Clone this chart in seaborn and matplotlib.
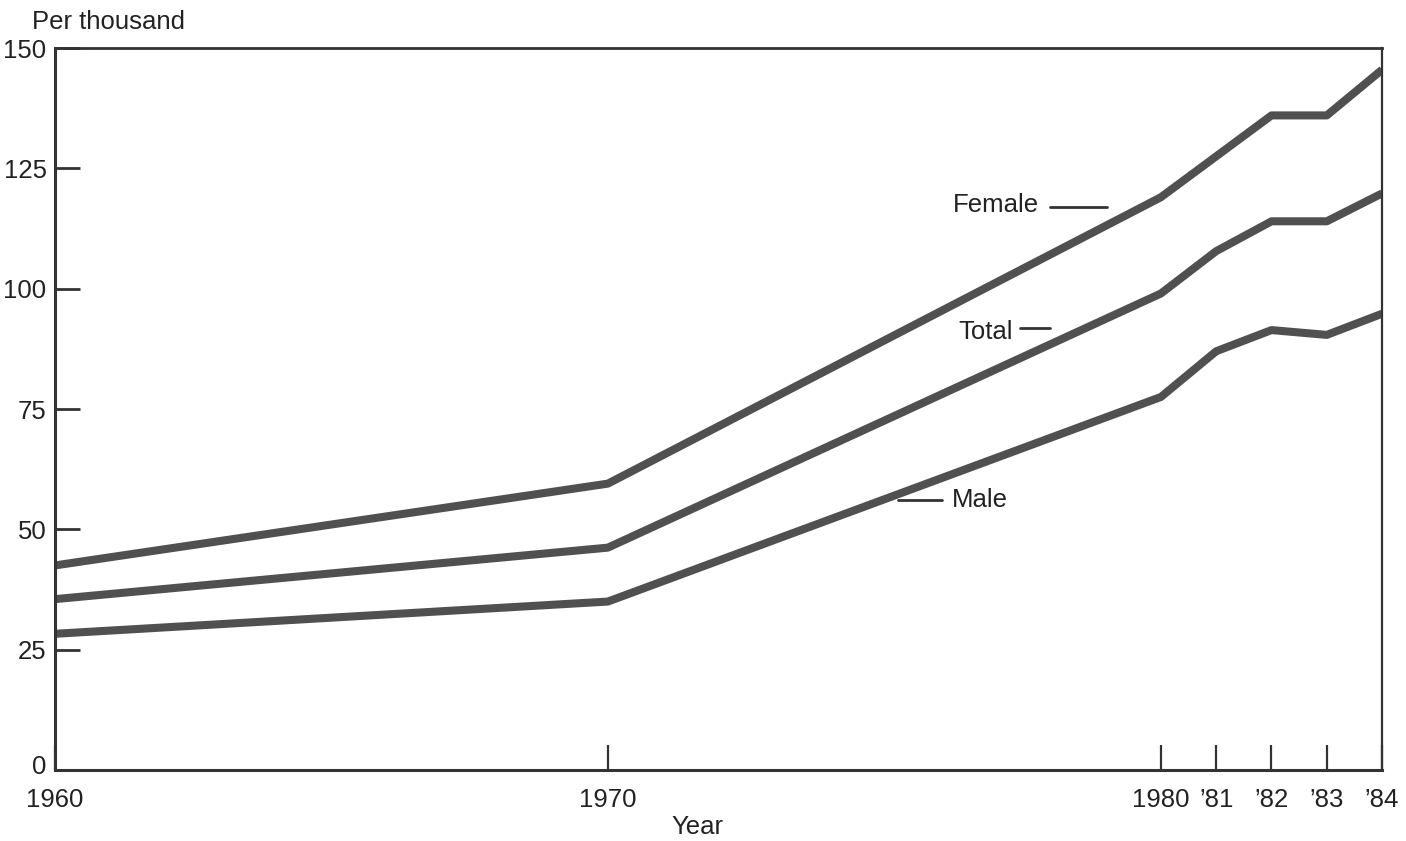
import matplotlib
matplotlib.use("Agg")
import matplotlib.pyplot as plt
import matplotlib.transforms as mtransforms
import seaborn as sns
import pandas as pd

years = [1960, 1970, 1980, 1981, 1982, 1983, 1984]
female = [42.5, 59.5, 119.0, 127.5, 136.0, 136.0, 145.5]
total = [35.5, 46.2, 99.0, 107.8, 114.0, 114.0, 119.8]
male = [28.3, 35.0, 77.5, 87.0, 91.4, 90.4, 94.8]

xtick_pos = [1960, 1970, 1980, 1981, 1982, 1983, 1984]
xtick_labels = ["1960", "1970", "1980", "\u201981", "\u201982", "\u201983", "\u201984"]
ytick_pos = [0, 25, 50, 75, 100, 125, 150]

series_names = ["Female", "Total", "Male"]

df = pd.DataFrame({
    "Year": years * 3,
    "Value": female + total + male,
    "Series": ["Female"] * len(years) + ["Total"] * len(years) + ["Male"] * len(years),
})

sns.set_style("white")
plt.rcParams["font.family"] = ["Liberation Sans", "DejaVu Sans"]

FS = 18.5
fig = plt.figure(figsize=(14.06, 8.41), dpi=100)
ax = fig.add_axes([0.039, 0.0844, 0.944, 0.8585])

sns.lineplot(data=df, x="Year", y="Value", hue="Series",
             palette={"Female": "#505050", "Total": "#505050", "Male": "#505050"},
             linewidth=5.8, legend=False, ax=ax, solid_capstyle="butt")

ax.set_xlim(1960, 1984)
ax.set_ylim(0, 150)

ax.set_xticks(xtick_pos)
ax.set_xticklabels(xtick_labels, fontsize=FS, color="#222222")
ax.set_yticks(ytick_pos)
ax.set_yticklabels([str(v) for v in ytick_pos], fontsize=FS, color="#222222")
ax.tick_params(axis="y", direction="in", length=18, width=2, color="#333333", pad=6, left=True)
ax.tick_params(axis="x", direction="in", length=18, width=1.6, color="#333333", pad=13, bottom=True)

# lift the "0" label slightly above the baseline like the reference
fig.canvas.draw()
zero_lbl = ax.get_yticklabels()[0]
zero_lbl.set_transform(zero_lbl.get_transform() +
                       mtransforms.ScaledTranslation(0, 6 / 100, fig.dpi_scale_trans))

for side, lw in [("left", 2.2), ("bottom", 2.2), ("top", 2.0), ("right", 1.6)]:
    ax.spines[side].set_visible(True)
    ax.spines[side].set_linewidth(lw)
    ax.spines[side].set_color("#333333")

ax.set_xlabel("Year", fontsize=FS, color="#222222")
ax.xaxis.set_label_coords(0.484, -0.062)
ax.set_ylabel("")
fig.text(0.023, 0.974, "Per thousand", fontsize=FS, color="#222222", ha="left", va="center")

# direct labels with leader dashes
label_text = {"Female": (1976.24, 117.4), "Total": (1976.33, 91.0), "Male": (1976.22, 56.1)}
label_dash = {"Female": ((1977.99, 1979.02), 117.0),
              "Total": ((1977.45, 1977.99), 91.8),
              "Male": ((1975.24, 1976.04), 56.1)}
for name in series_names:
    tx, ty = label_text[name]
    ax.text(tx, ty, name, fontsize=FS, color="#222222", ha="left", va="center")
    (x0, x1), yy = label_dash[name]
    ax.plot([x0, x1], [yy, yy], color="#333333", linewidth=2)

fig.savefig("out.png", dpi=100)
